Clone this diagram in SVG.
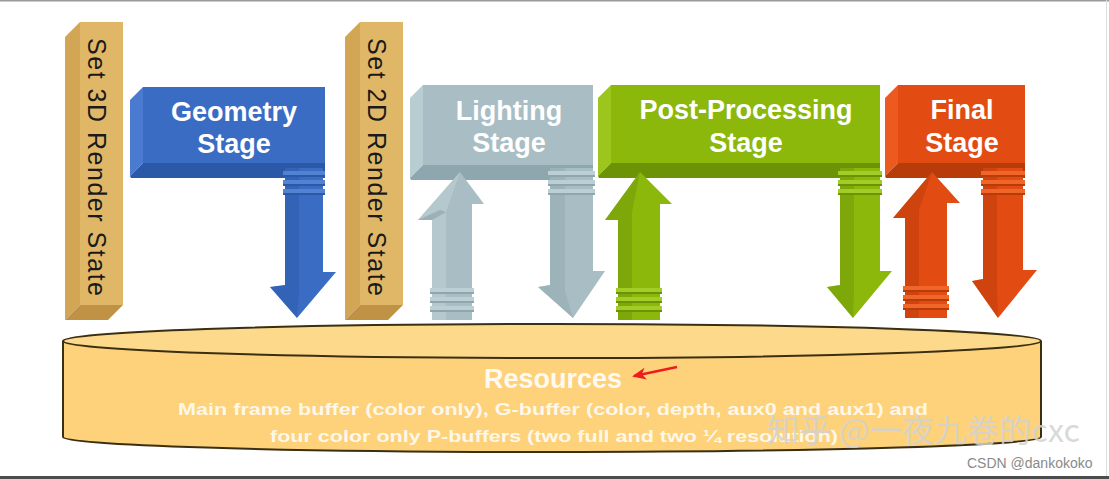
<svg xmlns="http://www.w3.org/2000/svg" width="1109" height="479" viewBox="0 0 1109 479">
<defs>
<style>
.lbl{font-family:"Liberation Sans",Arial,sans-serif;font-weight:bold;fill:#ffffff;text-anchor:middle}
.vert{font-family:"Liberation Sans",Arial,sans-serif;font-size:25px;fill:#1a1a1a;text-anchor:middle}
.tanF{fill:#e0b767}.tanS{fill:#d2a654}.tanB{fill:#bf9246}
.bF{fill:#3a6cc4}.bS{fill:#4a7bd0}.bB{fill:#2c58a8}.bL{fill:#5283d2}
.gF{fill:#a8bec4}.gS{fill:#b8cdd2}.gB{fill:#8ea6ad}.gL{fill:#bccfd4}
.nF{fill:#8cb80c}.nS{fill:#9cc61e}.nB{fill:#6c9306}.nL{fill:#a2cc26}
.rF{fill:#e24c12}.rS{fill:#ec5a20}.rB{fill:#b83c0a}.rL{fill:#f06628}
</style>
<marker id="redhead" viewBox="0 0 14 12" refX="12" refY="6" markerWidth="14" markerHeight="12" markerUnits="userSpaceOnUse" orient="auto">
<path d="M0,0 L14,6 L0,12 L4,6 Z" fill="#ee1c1c"/>
</marker>
</defs>
<rect x="0" y="0" width="1109" height="479" fill="#ffffff"/>
<rect x="0" y="0" width="1109" height="1.5" fill="#9a9a9a"/>
<rect x="1106" y="0" width="1" height="479" fill="#dddddd"/>

<g id="set3d">
<polygon class="tanS" points="65,37 80,22 80,305 65,320"/>
<rect class="tanF" x="80" y="22" width="43" height="283"/>
<polygon class="tanB" points="65,320 80,305 123,305 108,320"/>
<text class="vert" transform="translate(88,167) rotate(90)" textLength="258" lengthAdjust="spacing">Set 3D Render State</text>
</g>

<g id="set2d">
<polygon class="tanS" points="345,37 360,22 360,305 345,320"/>
<rect class="tanF" x="360" y="22" width="43" height="283"/>
<polygon class="tanB" points="345,320 360,305 403,305 388,320"/>
<text class="vert" transform="translate(368,167) rotate(90)" textLength="258" lengthAdjust="spacing">Set 2D Render State</text>
</g>

<g id="geometry">
<polygon class="bS" points="130,100 143,87 143,163 130,176"/>
<rect class="bF" x="143" y="87" width="182" height="76"/>
<polygon class="bB" points="130,176 143,163 325,163 325,178 131,178"/>
<text class="lbl" x="234" y="121" font-size="27">Geometry</text>
<text class="lbl" x="234" y="153" font-size="27">Stage</text>
</g>

<g id="lighting">
<polygon class="gS" points="410,98 423,85 423,165 410,178"/>
<rect class="gF" x="423" y="85" width="170" height="80"/>
<polygon class="gB" points="410,178 423,165 593,165 593,180 411,180"/>
<text class="lbl" x="509" y="120" font-size="27">Lighting</text>
<text class="lbl" x="509" y="152" font-size="27">Stage</text>
</g>

<g id="postprocessing">
<polygon class="nS" points="598,98 611,85 611,163 598,176"/>
<rect class="nF" x="611" y="85" width="269" height="78"/>
<polygon class="nB" points="598,176 611,163 880,163 880,178 599,178"/>
<text class="lbl" x="746" y="119" font-size="27">Post-Processing</text>
<text class="lbl" x="746" y="152" font-size="27">Stage</text>
</g>

<g id="final">
<polygon class="rS" points="885,98 898,85 898,163 885,176"/>
<rect class="rF" x="898" y="85" width="127" height="78"/>
<polygon class="rB" points="885,176 898,163 1025,163 1025,178 886,178"/>
<text class="lbl" x="962" y="119" font-size="27">Final</text>
<text class="lbl" x="962" y="152" font-size="27">Stage</text>
</g>

<g id="connectors">
<!-- Geometry down -->
<g>
<polygon class="bF" points="285,168 323,168 323,272 336,272 297,318 270,287 285,285"/>
<polygon class="bB" points="285,168 299,168 299,291 297,318 270,287 285,285" opacity="0.45"/>
<rect class="bL" x="283" y="171" width="42" height="4"/><rect class="bB" x="283" y="175" width="42" height="2"/>
<rect class="bL" x="283" y="180" width="42" height="4"/><rect class="bB" x="283" y="184" width="42" height="2"/>
<rect class="bL" x="283" y="189" width="42" height="4"/><rect class="bB" x="283" y="193" width="42" height="2"/>
</g>
<!-- Lighting up -->
<g>
<polygon class="gF" points="460,172 484,204 472,204 472,320 432,320 432,220 418,220"/>
<polygon class="gL" points="460,172 418,220 432,220 432,320 446,320 446,212" opacity="0.6"/>
<polygon class="gB" points="418,220 432,220 446,212 440,210" opacity="0.7"/>
<rect class="gL" x="430" y="288" width="44" height="4"/><rect class="gB" x="430" y="292" width="44" height="2"/>
<rect class="gL" x="430" y="297" width="44" height="4"/><rect class="gB" x="430" y="301" width="44" height="2"/>
<rect class="gL" x="430" y="306" width="44" height="4"/><rect class="gB" x="430" y="310" width="44" height="2"/>
</g>
<!-- Lighting down -->
<g>
<polygon class="gF" points="550,168 593,168 593,271 605,271 573,318 538,287 550,285"/>
<polygon class="gB" points="550,168 565,168 565,291 573,318 538,287 550,285" opacity="0.45"/>
<rect class="gL" x="548" y="171" width="47" height="4"/><rect class="gB" x="548" y="175" width="47" height="2"/>
<rect class="gL" x="548" y="180" width="47" height="4"/><rect class="gB" x="548" y="184" width="47" height="2"/>
<rect class="gL" x="548" y="189" width="47" height="4"/><rect class="gB" x="548" y="193" width="47" height="2"/>
</g>
<!-- Post up -->
<g>
<polygon class="nF" points="640,172 672,204 660,204 660,320 618,320 618,220 605,220"/>
<polygon class="nB" points="640,172 605,220 618,220 618,320 632,320 632,212" opacity="0.45"/>
<rect class="nL" x="616" y="288" width="46" height="4"/><rect class="nB" x="616" y="292" width="46" height="2"/>
<rect class="nL" x="616" y="297" width="46" height="4"/><rect class="nB" x="616" y="301" width="46" height="2"/>
<rect class="nL" x="616" y="306" width="46" height="4"/><rect class="nB" x="616" y="310" width="46" height="2"/>
</g>
<!-- Post down -->
<g>
<polygon class="nF" points="840,168 880,168 880,271 892,271 853,318 827,287 840,285"/>
<polygon class="nB" points="840,168 854,168 854,291 853,318 827,287 840,285" opacity="0.45"/>
<rect class="nL" x="838" y="171" width="44" height="4"/><rect class="nB" x="838" y="175" width="44" height="2"/>
<rect class="nL" x="838" y="180" width="44" height="4"/><rect class="nB" x="838" y="184" width="44" height="2"/>
<rect class="nL" x="838" y="189" width="44" height="4"/><rect class="nB" x="838" y="193" width="44" height="2"/>
</g>
<!-- Final up -->
<g>
<polygon class="rF" points="932,172 960,203 947,203 947,318 905,318 905,218 893,218"/>
<polygon class="rB" points="932,172 893,218 905,218 905,318 919,318 919,210" opacity="0.45"/>
<rect class="rL" x="903" y="286" width="46" height="4"/><rect class="rB" x="903" y="290" width="46" height="2"/>
<rect class="rL" x="903" y="295" width="46" height="4"/><rect class="rB" x="903" y="299" width="46" height="2"/>
<rect class="rL" x="903" y="304" width="46" height="4"/><rect class="rB" x="903" y="308" width="46" height="2"/>
</g>
<!-- Final down -->
<g>
<polygon class="rF" points="983,168 1023,168 1023,270 1037,270 998,318 972,281 983,279"/>
<polygon class="rB" points="983,168 997,168 997,288 998,318 972,281 983,279" opacity="0.45"/>
<rect class="rL" x="981" y="171" width="44" height="4"/><rect class="rB" x="981" y="175" width="44" height="2"/>
<rect class="rL" x="981" y="180" width="44" height="4"/><rect class="rB" x="981" y="184" width="44" height="2"/>
<rect class="rL" x="981" y="189" width="44" height="4"/><rect class="rB" x="981" y="193" width="44" height="2"/>
</g>
</g>

<g id="resources">
<path d="M63,341 V437 A489,15 0 0 0 1041,437 V341 Z" fill="#fdd27b"/>
<path d="M63,341 V437 A489,15 0 0 0 1041,437 V341" fill="none" stroke="#3b2f12" stroke-width="2"/>
<ellipse cx="552" cy="341" rx="489" ry="17" fill="#fdd98c" stroke="#3b2f12" stroke-width="2"/>
<text class="lbl" x="553" y="388" font-size="27" fill-opacity="0.92">Resources</text>
<text class="lbl" x="553" y="415" font-size="17" fill-opacity="0.85" textLength="750" lengthAdjust="spacingAndGlyphs">Main frame buffer (color only), G-buffer (color, depth, aux0 and aux1) and</text>
<text class="lbl" x="554" y="442" font-size="17" fill-opacity="0.85" textLength="568" lengthAdjust="spacingAndGlyphs">four color only P-buffers (two full and two ¼ resolution)</text>
</g>

<line x1="677" y1="367" x2="634" y2="376" stroke="#ee1c1c" stroke-width="2.5" marker-end="url(#redhead)"/>

<text x="767" y="442" font-family="'Noto Sans CJK SC','Noto Sans',sans-serif" font-size="32" fill="#d2d2d2" fill-opacity="0.85" textLength="313" lengthAdjust="spacingAndGlyphs">知乎 @一夜九卷的cxc</text>
<text x="967" y="468" font-family="'Liberation Sans',Arial,sans-serif" font-size="14" fill="#8a8a8a">CSDN @dankokoko</text>

<rect x="0" y="476" width="1109" height="3" fill="#4c4c4c"/>
</svg>
